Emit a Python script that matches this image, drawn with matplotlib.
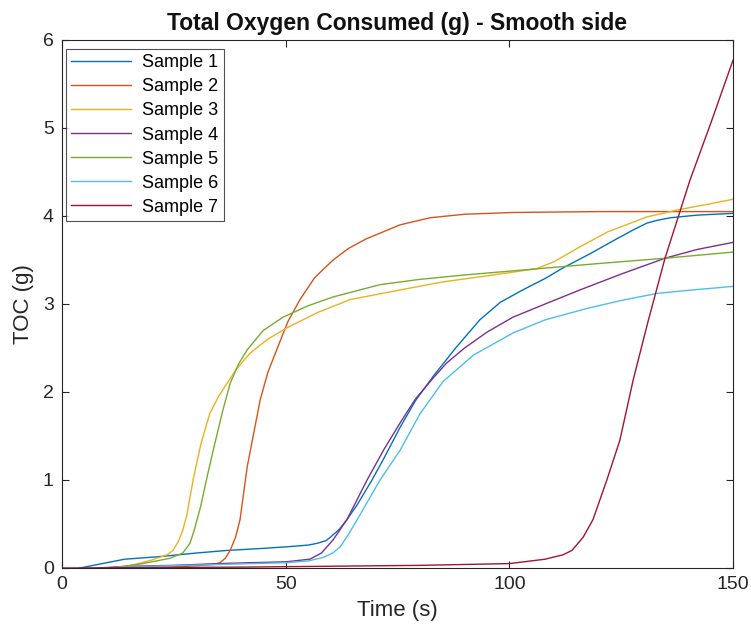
import matplotlib
matplotlib.use("Agg")
import matplotlib.pyplot as plt

plt.rcParams['font.family'] = ['Liberation Sans', 'DejaVu Sans']

labels = ["Sample 1", "Sample 2", "Sample 3", "Sample 4", "Sample 5", "Sample 6", "Sample 7"]
colors = ["#0072BD", "#D95319", "#EDB120", "#7E2F8E", "#77AC30", "#4DBEEE", "#A2142F"]

s1_t = [4, 10, 14, 22, 30, 37, 44, 50, 55, 57, 59, 60, 62, 63.7, 66, 69.3, 72, 75.6, 79, 83, 88, 93.4, 98, 103, 108, 112, 118, 124, 128, 130.8, 133, 136, 142, 150]
s1_v = [0, 0.06, 0.1, 0.13, 0.17, 0.2, 0.22, 0.24, 0.26, 0.28, 0.31, 0.35, 0.44, 0.55, 0.72, 1.0, 1.25, 1.6, 1.9, 2.18, 2.5, 2.82, 3.02, 3.16, 3.29, 3.41, 3.57, 3.74, 3.85, 3.92, 3.95, 3.98, 4.01, 4.03]

s2_t = [20, 28, 34, 35.3, 36.5, 37.6, 38.8, 39.8, 41.4, 44.3, 46, 48, 50.5, 53.2, 56.5, 60.6, 64, 68, 75.6, 82.3, 90, 100.8, 120, 150]
s2_v = [0, 0.02, 0.04, 0.06, 0.11, 0.2, 0.35, 0.55, 1.15, 1.91, 2.22, 2.48, 2.8, 3.05, 3.3, 3.5, 3.63, 3.74, 3.9, 3.98, 4.02, 4.04, 4.05, 4.05]

s3_t = [10, 15.6, 20, 23.5, 24.8, 26, 27, 27.9, 29.3, 31, 33, 35, 36.9, 39, 42, 46, 50.3, 57, 64.4, 75.6, 85, 95, 106, 110, 115.8, 122, 130.8, 137.7, 144, 150]
s3_v = [0, 0.03, 0.09, 0.15, 0.2, 0.3, 0.43, 0.6, 1.0, 1.4, 1.75, 1.95, 2.1, 2.26, 2.44, 2.6, 2.73, 2.9, 3.05, 3.16, 3.25, 3.32, 3.40, 3.48, 3.65, 3.82, 3.99, 4.07, 4.13, 4.19]

s4_t = [8, 15, 25, 35, 42, 50, 55.4, 58, 60.6, 63.7, 68.2, 72, 75.6, 79, 83, 86, 90, 95, 100.8, 108, 115.8, 125, 134.8, 142, 150]
s4_v = [0, 0.02, 0.03, 0.05, 0.06, 0.07, 0.1, 0.17, 0.32, 0.55, 1.0, 1.35, 1.65, 1.92, 2.16, 2.33, 2.5, 2.68, 2.85, 3.0, 3.16, 3.34, 3.52, 3.62, 3.70]

s5_t = [11.4, 18, 24.1, 27, 28.6, 29.5, 31, 32.5, 34, 36, 37.6, 39.5, 41.4, 45, 49.4, 55, 60.6, 71.1, 80, 90, 106.2, 120, 134.8, 150]
s5_v = [0, 0.05, 0.11, 0.17, 0.28, 0.42, 0.7, 1.05, 1.38, 1.8, 2.1, 2.32, 2.48, 2.7, 2.85, 2.98, 3.08, 3.22, 3.28, 3.33, 3.40, 3.46, 3.52, 3.59]

s6_t = [8, 20, 35, 50, 55, 58.4, 60.5, 62.2, 64, 66, 71.1, 75.6, 80, 85.2, 92, 100.8, 108, 117.4, 125, 133, 141, 150]
s6_v = [0, 0.02, 0.04, 0.06, 0.08, 0.12, 0.17, 0.24, 0.38, 0.55, 1.0, 1.34, 1.75, 2.12, 2.42, 2.67, 2.82, 2.95, 3.04, 3.12, 3.16, 3.20]

s7_t = [0, 40, 60, 80, 100, 108, 112, 114, 116.5, 118.7, 121.8, 124.7, 127.7, 131, 134.8, 140.4, 145, 150]
s7_v = [0, 0.01, 0.02, 0.03, 0.05, 0.1, 0.15, 0.2, 0.35, 0.55, 1.0, 1.45, 2.14, 2.8, 3.52, 4.41, 5.05, 5.77]

series = [(s1_t, s1_v), (s2_t, s2_v), (s3_t, s3_v), (s4_t, s4_v), (s5_t, s5_v), (s6_t, s6_v), (s7_t, s7_v)]

xticks = [0, 50, 100, 150]
yticks = [0, 1, 2, 3, 4, 5, 6]

fig = plt.figure(figsize=(7.51, 6.32), dpi=100)
ax = fig.add_axes([62/751, 1-568/632, (733-62)/751, (568-40)/632])

for (t, v), c, lab in zip(series, colors, labels):
    ax.plot(t, v, color=c, lw=1.0, label=lab)

ax.set_xlim(0, 150)
ax.set_ylim(0, 6)
ax.set_xticks(xticks)
ax.set_yticks(yticks)
ax.tick_params(direction='in', top=True, right=True, length=5, width=0.8,
               labelsize=14, colors='#262626', pad=6)
for s in ax.spines.values():
    s.set_color('#262626')
    s.set_linewidth(0.8)

ax.set_xlabel("Time (s)", fontsize=16, color='#262626', labelpad=5)
ax.set_ylabel("TOC (g)", fontsize=16, color='#262626', labelpad=6)
ax.set_title("Total Oxygen Consumed (g) - Smooth side", fontsize=16.5, fontweight='bold',
             color='#111111', pad=7)

leg = ax.legend(loc='upper left', bbox_to_anchor=(0.006, 0.983), fontsize=13,
                frameon=True, fancybox=False, handlelength=3.3, handletextpad=0.6,
                labelspacing=0.39, borderpad=0.3, borderaxespad=0)
leg.get_frame().set_edgecolor('#262626')
leg.get_frame().set_linewidth(0.8)

fig.savefig("out.png", dpi=100)
